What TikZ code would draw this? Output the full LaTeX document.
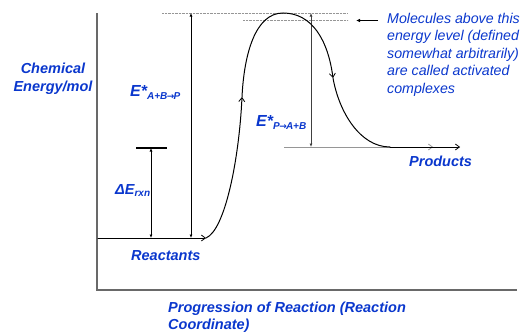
\documentclass[tikz,border=0pt]{standalone}
\usepackage{fontspec}
\setmainfont{Liberation Sans}
\newfontfamily\arrowfont{DejaVu Sans}
\usetikzlibrary{arrows.meta}
\definecolor{lblue}{RGB}{10,55,205}
\definecolor{axgray}{RGB}{105,105,105}
\definecolor{dotgray}{RGB}{150,150,150}
\newcommand{\rarr}{{\arrowfont\bfseries\fontsize{9}{9}\selectfont\kern-0.5pt→\kern-0.8pt}}
\begin{document}
\begin{tikzpicture}[x=1pt,y=-1pt,
  lbl/.style={text=lblue,font=\fontsize{14.5}{18}\selectfont\bfseries\itshape,inner sep=0pt},
  note/.style={text=lblue,font=\fontsize{14.2}{17.5}\selectfont\itshape,inner sep=0pt,align=left},
  axisline/.style={axgray,line width=1.6pt},
  levelline/.style={dotgray,line width=0.7pt,dash pattern=on 1pt off 0.4pt},
  dimarrow/.style={line width=0.7pt,{Latex[length=3.5pt,width=3pt]}-{Latex[length=3.5pt,width=3pt]}},
  pathline/.style={line width=1pt,line cap=round},
  vtip/.style={-{Straight Barb[length=4pt,width=6pt,line width=0.8pt]}}
]
\useasboundingbox (0,0) rectangle (525,332);
% coordinates
\coordinate (ytop) at (97,13);
\coordinate (orig) at (97,290);
\coordinate (xend) at (517,290);
\coordinate (reacL) at (98,238);
\coordinate (reacR) at (206,238);
\coordinate (up) at (242,97);
\coordinate (peak) at (283,13);
\coordinate (down) at (333,78);
\coordinate (prodS) at (390,147);
\coordinate (prodE) at (460,147);
\coordinate (grayS) at (284,147);
\coordinate (grayE) at (433,147);
\coordinate (topL) at (162,13);
\coordinate (topR) at (348,13);
\coordinate (actL) at (243,20.5);
\coordinate (actR) at (348,20.5);
\coordinate (ptrS) at (378,20.5);
\coordinate (ptrE) at (356,20.5);
\coordinate (eaT) at (191,13);
\coordinate (eaB) at (191,238);
\coordinate (ebT) at (311,13);
\coordinate (ebB) at (311,147);
\coordinate (dbL) at (136,148);
\coordinate (dbR) at (167,148);
\coordinate (deT) at (151,148);
\coordinate (deB) at (151,238);
% axes
\draw[axisline] (ytop) -- (orig) -- (xend);
% level lines
\draw[levelline] (topL) -- (topR);
\draw[levelline] (actL) -- (actR);
\draw[dotgray,line width=0.7pt,vtip] (grayS) -- (grayE);
% pointer
\draw[line width=0.8pt,-{Latex[length=4pt,width=3.5pt]}] (ptrS) -- (ptrE);
% dimension arrows
\draw[dimarrow] (eaT) -- (eaB);
\draw[dimarrow,black!75] (ebT) -- (ebB);
\draw[dimarrow] (deT) -- (deB);
\draw[line width=2.8pt] (dbL) -- (dbR);
% reaction path
\draw[pathline,vtip] (reacL) -- (reacR);
\draw[pathline,vtip] (reacR) .. controls (225,230) and (239,160) .. (up);
\draw[pathline] (up) .. controls (244,55) and (255,13) .. (peak);
\draw[pathline,vtip] (peak) .. controls (312,13) and (328,40) .. (down);
\draw[pathline] (down) .. controls (339,112) and (360,147) .. (prodS);
\draw[pathline,vtip] (prodS) -- (prodE);
% labels
\node[lbl,align=center,anchor=base] (ylab) at (53,91) {Chemical\\Energy/mol};
\node[lbl,anchor=base west] (eab) at (130,96) {{\fontsize{16}{16}\selectfont E*}\raisebox{-3pt}{\fontsize{10}{10}\selectfont A+B\rarr P}};
\node[lbl,anchor=base west] (ebl) at (256,126) {{\fontsize{16}{16}\selectfont E*}\raisebox{-3pt}{\fontsize{10}{10}\selectfont P\rarr A+B}};
\node[lbl,anchor=base west] (derxn) at (115,194) {ΔE\raisebox{-2pt}{\fontsize{10}{10}\selectfont rxn}};
\node[lbl,anchor=base west] (reac) at (131,260) {Reactants};
\node[lbl,anchor=base west] (prod) at (409,166) {Products};
\node[lbl,align=left,anchor=base west,font=\fontsize{14.5}{16.5}\selectfont\bfseries\itshape] (xlab) at (168,329) {Progression of Reaction (Reaction\\Coordinate)};
\node[note,anchor=north west] (notetext) at (387,13) {Molecules above this\\energy level (defined\\somewhat arbitrarily)\\are called activated\\complexes};
\end{tikzpicture}
\end{document}
